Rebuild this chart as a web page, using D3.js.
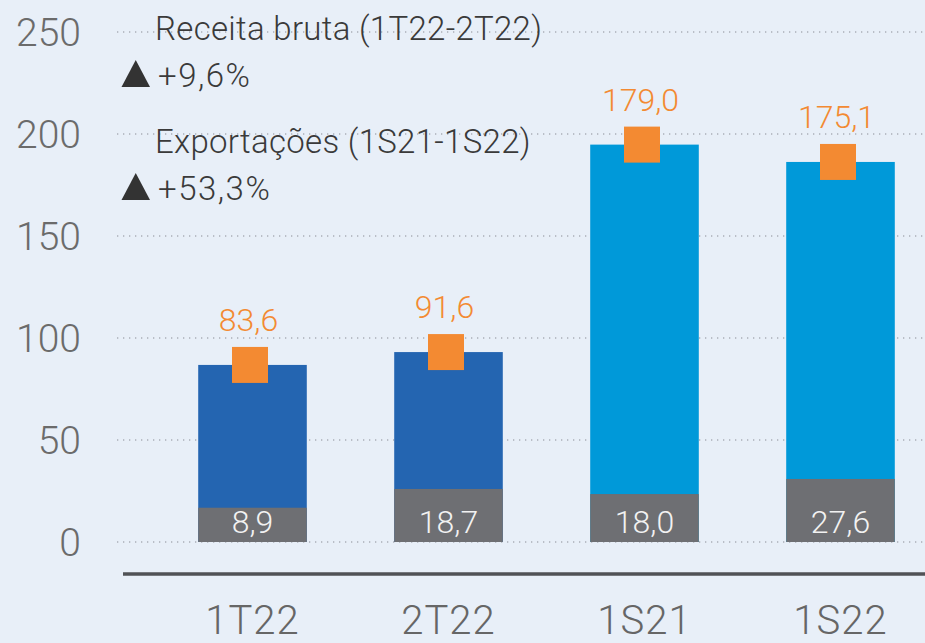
<!DOCTYPE html>
<html>
<head>
<meta charset="utf-8">
<script src="https://cdn.jsdelivr.net/npm/d3@7"></script>
<style>
  html, body { margin: 0; padding: 0; background: #e8eff8; }
  svg { display: block; font-family: Roboto, "Open Sans", "Liberation Sans", sans-serif; font-weight: 300; }
</style>
</head>
<body>
<div id="chart"></div>
<script>
// periods on the x axis
const categories = ['1T22', '2T22', '1S21', '1S22'];
// bar heights (total and grey bottom part)
const totalValues = [86.8, 93.1, 194.8, 186.3];
const bottomValues = [16.8, 26.0, 23.5, 30.9];
// printed labels
const topLabels = ['83,6', '91,6', '179,0', '175,1'];
const bottomLabels = ['8,9', '18,7', '18,0', '27,6'];
const yTicks = [0, 50, 100, 150, 200, 250];

const width = 925, height = 643;

const svg = d3.select('#chart')
    .append('svg')
    .attr('width', width)
    .attr('height', height);

svg.append('rect')
    .attr('width', width)
    .attr('height', height)
    .attr('fill', '#e8eff8');

const y = d3.scaleLinear().domain([0, 250]).range([542, 32]);
const x = d3.scaleBand()
    .domain(categories)
    .range([154.5, 938.5])
    .paddingInner(0.446)
    .paddingOuter(0.223);

const barColor = d3.scaleOrdinal()
    .domain(categories)
    .range(['#2465b1', '#2465b1', '#0099d9', '#0099d9']);

// dotted grid lines
svg.selectAll('.grid')
    .data(yTicks)
    .enter()
    .append('line')
    .attr('x1', 117)
    .attr('x2', width)
    .attr('y1', d => y(d))
    .attr('y2', d => y(d))
    .attr('stroke', '#a9aeb6')
    .attr('stroke-width', 1.3)
    .attr('stroke-dasharray', '1.3,4.7');

// y tick labels
svg.selectAll('.ytick')
    .data(yTicks)
    .enter()
    .append('text')
    .attr('x', 81)
    .attr('y', d => y(d) + 14)
    .attr('text-anchor', 'end')
    .style('font-size', '39px')
    .style('fill', '#6b6b6b')
    .text(d => d);

// annotations in the top left
const notes = svg.append('g')
    .style('fill', '#3a3a3a')
    .style('font-size', '33px')
    .style('letter-spacing', '0.3px');
notes.append('text').attr('x', 155).attr('y', 40).text('Receita bruta (1T22-2T22)');
notes.append('text').attr('x', 158).attr('y', 87).style('letter-spacing', '1.5px').text('+9,6%');
notes.append('text').attr('x', 155).attr('y', 153).text('Exportações (1S21-1S22)');
notes.append('text').attr('x', 158).attr('y', 200).style('letter-spacing', '1.5px').text('+53,3%');
[87, 200].forEach(b => {
    notes.append('path')
        .attr('d', `M121.5,${b} L150,${b} L135.75,${b - 27} Z`)
        .attr('fill', '#333');
});

// bars
const bars = svg.selectAll('.bar')
    .data(categories)
    .enter()
    .append('g');

bars.append('rect')
    .attr('x', d => x(d))
    .attr('width', x.bandwidth())
    .attr('y', (d, i) => y(totalValues[i]))
    .attr('height', (d, i) => y(0) - y(totalValues[i]))
    .attr('fill', d => barColor(d));

bars.append('rect')
    .attr('x', d => x(d))
    .attr('width', x.bandwidth())
    .attr('y', (d, i) => y(bottomValues[i]))
    .attr('height', (d, i) => y(0) - y(bottomValues[i]))
    .attr('fill', '#6e6f73');

bars.append('text')
    .attr('x', d => x(d) + x.bandwidth() / 2)
    .attr('y', y(0) - 9)
    .attr('text-anchor', 'middle')
    .style('font-size', '32px')
    .style('fill', '#f2f2f2')
    .text((d, i) => bottomLabels[i]);

// orange markers on the bar tops
const m = 36;
bars.append('rect')
    .attr('x', d => x(d) + x.bandwidth() / 2 - 2.5 - m / 2)
    .attr('y', (d, i) => y(totalValues[i]) - m / 2)
    .attr('width', m)
    .attr('height', m)
    .attr('fill', '#f38a32');

bars.append('text')
    .attr('x', d => x(d) + x.bandwidth() / 2 - 4)
    .attr('y', (d, i) => y(totalValues[i]) - m / 2 - 16)
    .attr('text-anchor', 'middle')
    .style('font-size', '32px')
    .style('fill', '#f38a32')
    .text((d, i) => topLabels[i]);

// baseline
svg.append('line')
    .attr('x1', 123)
    .attr('x2', width)
    .attr('y1', 574)
    .attr('y2', 574)
    .attr('stroke', '#505256')
    .attr('stroke-width', 3.5);

// x labels
svg.selectAll('.xlabel')
    .data(categories)
    .enter()
    .append('text')
    .attr('x', d => x(d) + x.bandwidth() / 2)
    .attr('y', 634)
    .attr('text-anchor', 'middle')
    .style('font-size', '40px')
    .style('letter-spacing', '1px')
    .style('fill', '#666')
    .text(d => d);
</script>
</body>
</html>
